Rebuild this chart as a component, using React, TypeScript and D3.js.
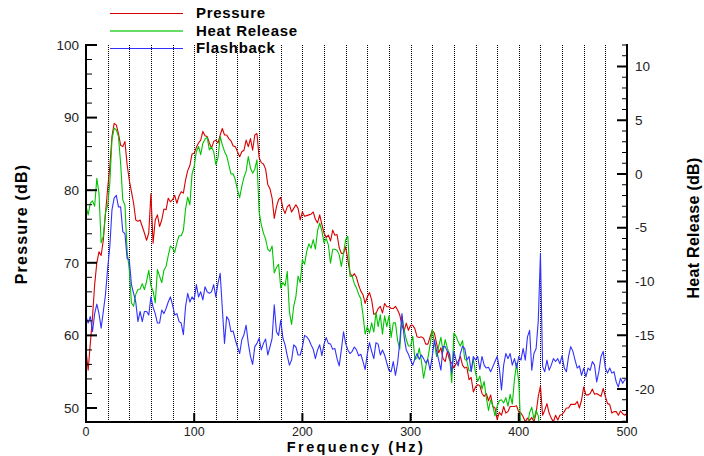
import React from "react";
import * as d3 from "d3";

// ---- data (frequency step 2 Hz, starting at 0 Hz) ----
const freqStep = 2;

const pressureDb = [
  58, 55.2, 58.9, 62.5, 67, 70, 71.5, 71, 73.1, 76.8,
  80.2, 83.2, 87.4, 89.2, 89, 87.8, 86.2, 86, 86.7, 83.5,
  81.4, 79.8, 78.2, 75.9, 75.7, 75.9, 75, 74.1, 73.1, 74.1,
  79.5, 72.7, 75.9, 76.6, 75, 75.9, 77.4, 77.3, 78.9, 78.4,
  78.7, 79.3, 78.2, 79.2, 79.8, 79.6, 81.4, 82.7, 83.4, 85,
  85.1, 85.9, 86.5, 86.9, 88.1, 87.5, 87.4, 86.5, 85.8, 86.7,
  86.9, 86.5, 87.6, 88.5, 87.6, 87.6, 87.1, 86.8, 86.1, 86,
  85.3, 84.6, 85.3, 85.5, 86.9, 86, 87.1, 85.5, 87.6, 87.8,
  84.5, 83.8, 83.6, 82.9, 80.8, 80.2, 78.9, 76.1, 77.7, 78.7,
  79, 77.5, 76.8, 77.7, 78, 77, 77.5, 78, 77.5, 75.9,
  77, 76.4, 76.5, 76.6, 76.7, 77, 76, 75.5, 76.6, 75.3,
  74.1, 73.5, 73.8, 73, 74.5, 73.8, 73.9, 72.1, 71.3, 71.3,
  72.2, 70.4, 68.6, 68.1, 68.5, 68, 66.9, 66.1, 65.6, 64.4,
  65.3, 65.9, 64.9, 62.9, 63, 63.7, 64, 63.1, 64.4, 63.95,
  63.95, 63.7, 63.7, 64, 63.5, 62.8, 61.4, 60.6, 61.7, 60.7,
  61.4, 61.4, 60.9, 59.8, 59.7, 59.8, 59.6, 58.8, 58.8, 59.8,
  60.7, 60.3, 58.9, 57.6, 58.3, 56.8, 56.4, 57.8, 56.6, 56.2,
  55.5, 56.1, 56.4, 57.1, 55.9, 55.5, 55.6, 53.9, 54.2, 52.2,
  52.9, 53.2, 53.1, 52, 51.6, 52, 51, 51.8, 50.2, 50,
  48.4, 49.4, 49, 50.2, 49.3, 49.5, 50.2, 50.2, 50.2, 50.3,
  49.4, 49.3, 48.8, 48.1, 48.6, 48.3, 48.7, 48.1, 49.3, 51.6,
  53, 49, 49.7, 50.6, 49.3, 48.6, 48.1, 49, 48.35, 49,
  49.1, 49.5, 50, 50, 50.5, 50.5, 50.5, 50.9, 50, 51.1,
  52.9, 51.8, 51.8, 52, 52.6, 51.9, 52, 51.8, 51.6, 52.7,
  51.6, 50.6, 50.5, 49.3, 49.5, 49.5, 49, 49.6, 49.2, 49,
  49.3,
];

const heatReleaseDb = [
  -3.0, -3.8, -2.7, -2.5, -3.0, -0.4, -1.8, -6.4, -5.8, -3.6,
  -2.95, -0.85, 3.2, 4.26, 4.1, 3.5, 1.0, -2.4, -2.9, -7.2,
  -8.9, -12, -12.3, -11.2, -10.75, -10.7, -10.2, -10.75, -9.98, -8.96,
  -10.4, -10.9, -12, -8.9, -9.5, -10.1, -8.96, -8.6, -7.6, -6.7,
  -6.9, -7.3, -6.4, -5.74, -5.74, -5.24, -3.26, -2.15, -2.86, 0,
  0.7, 2.1, 2.56, 1.8, 2.87, 3.24, 3.43, 2.25, 2.5, 2.1,
  0.86, 1.5, 3.49, 2.7, 2.1, 1.7, 0.86, 0, 0.02, -0.54,
  -1.47, -2.2, -1.16, -0.3, 0.24, 1.63, 0.55, 0.08, 0.45, 1.32,
  -3.5, -4.7, -5.5, -6.05, -7, -7.2, -6.7, -9.2, -8.7, -8.4,
  -10.6, -10.1, -10.4, -9.05, -12.8, -14, -12.3, -11.4, -9.5, -10.1,
  -7.97, -8.4, -7.2, -6.5, -6.9, -6.1, -7, -5.3, -4.56, -5.3,
  -6.4, -6, -6.6, -8.3, -7, -7, -7.1, -7.5, -8.6, -7.35,
  -6.1, -5.8, -9.5, -9.5, -10.2, -10.6, -11.2, -11.6, -13.1, -14.9,
  -14.2, -14.8, -13.85, -14.7, -12.9, -14.2, -13.1, -14.9, -13.2, -14.2,
  -13.2, -15.2, -13.85, -13.85, -15.5, -16.3, -13.2, -14.5, -15.4, -16,
  -16, -15.1, -17.25, -17.1, -16.2, -17.4, -19, -17.9, -17.1, -15.9,
  -14.5, -15.7, -17, -16, -15.2, -16.5, -15.4, -16.2, -16.8, -19.4,
  -14.8, -15.1, -15.6, -16, -15.5, -17.2, -17.4, -18.3, -18.3, -17.2,
  -18.5, -19.3, -18.8, -20, -19.3, -20.8, -22, -21, -21.6, -22.5,
  -21.6, -21.1, -21, -21.3, -20.8, -21.6, -20.5, -21.4, -19.1, -17.6,
  -19.4, -24, -23.6, -24, -23.4, -22.2, -21.7, -22.8, -22, -22.5,
  -24.5,
];

const flashbackDb = [
  62.6, 61.7, 62.6, 60.5, 63, 64.3, 63, 61, 63.3, 65.6,
  69.2, 72.2, 77.3, 78.9, 79.3, 77.7, 77.7, 74.3, 74, 70.6,
  70.4, 67, 65.8, 64.6, 61.9, 63.3, 61.9, 63.3, 63.3, 62.8,
  65.3, 63.9, 63, 61.7, 61.7, 63.5, 63, 63.7, 64.6, 65.3,
  64.2, 62.8, 63, 61.9, 61.7, 60.1, 63.96, 65.8, 64.6, 65.3,
  64.9, 67, 65.3, 66, 64.9, 66.7, 66, 65.8, 66, 67,
  65.3, 67.2, 68.55, 63.7, 58.9, 62.6, 62.1, 60.5, 60.6, 59.4,
  58.4, 57.5, 59.4, 60.1, 61.4, 58.9, 57.1, 56, 58.45, 58.9,
  59.6, 58, 58.9, 59.5, 57.3, 58.4, 59.6, 64.2, 60.5, 60,
  62.1, 59.6, 58.7, 57.2, 55.9, 56.6, 58.7, 58.4, 57.3, 57.3,
  58.4, 60, 59.8, 59.4, 58.7, 58.1, 56.8, 58, 58.7, 57.2,
  58.8, 59.7, 58.9, 58.8, 58.1, 58.2, 56.8, 55.8, 58, 60.5,
  58.9, 58, 57.5, 57.8, 58.4, 58, 57.2, 57.4, 56.4, 55.3,
  57.5, 59, 57.8, 56.8, 59, 58.8, 57.3, 58, 57.3, 56.2,
  55.2, 55, 56.4, 54.5, 56.2, 59.1, 63, 59.8, 58, 57.4,
  56.6, 55.9, 56.8, 57.5, 56.7, 57.3, 56.8, 56.2, 56.7, 55.2,
  57.1, 59.4, 57.9, 56.6, 55.2, 58.45, 58.45, 57.8, 57.5, 54.8,
  57.8, 56.6, 55.8, 57.5, 58.5, 58.2, 56.6, 57.1, 55, 57.1,
  56.6, 57.1, 55.3, 57.1, 55.9, 55.5, 55.6, 55, 55.7, 56.4,
  57.1, 55.5, 52.5, 55.9, 57.5, 56.8, 57.5, 55.9, 56.8, 55.5,
  57.1, 56.6, 58.2, 56.6, 59.8, 60.7, 55.2, 57.5, 58.2, 62,
  71.3, 55.7, 55, 56.6, 55.2, 55.9, 56.8, 56.4, 56.8, 56.1,
  57.2, 55.5, 55, 57.1, 58.45, 57.8, 56.6, 55.5, 55.8, 54.5,
  55.5, 54.3, 55.5, 55.2, 56.4, 55.9, 53.6, 55, 57.1, 57.8,
  55.5, 54.8, 55.5, 54.8, 55, 53.6, 52.9, 54.1, 53.4, 53.9,
  53.9,
];

const freqTicks = [0, 100, 200, 300, 400, 500];
const pressureTicks = [50, 60, 70, 80, 90, 100];
const heatTicks = [-20, -15, -10, -5, 0, 5, 10];
const legendLabels = ["Pressure", "Heat Release", "Flashback"];

const pressureDomain = [48.07, 100];
const heatDomain = [-23.07, 12];
const freqDomain = [0, 500];

const RED = "#d80000";
const GREEN = "#00c400";
const BLUE = "#3232ff";
const FONT = "'Liberation Sans', Arial, Helvetica, sans-serif";

const W = 704;
const H = 456;
const L = 86, R = 627, T = 45, B = 422;

export default function App() {
  const x = d3.scaleLinear().domain(freqDomain).range([L, R]);
  const yP = d3.scaleLinear().domain(pressureDomain).range([B, T]);
  const yH = d3.scaleLinear().domain(heatDomain).range([B, T]);

  const lineP = d3.line<number>().x((_, i) => x(i * freqStep)).y((d) => yP(d));
  const lineH = d3.line<number>().x((_, i) => x(i * freqStep)).y((d) => yH(d));

  const grid = d3.range(20, 500, 20);
  const leftMinor = d3.range(50, 100, 2).filter((v) => v % 10 !== 0);
  const rightMinor = d3.range(-23, 13, 1).filter((v) => v % 5 !== 0);
  const legendColors = [RED, GREEN, BLUE];

  return (
    <svg
      width={W}
      height={H}
      viewBox={`0 0 ${W} ${H}`}
      style={{ position: "absolute", left: 0, top: 0, background: "#fff" }}
      fontFamily={FONT}
    >
      <rect x={0} y={0} width={W} height={H} fill="#fff" />
      <defs>
        <clipPath id="plotClip">
          <rect x={L} y={T} width={R - L} height={B - T} />
        </clipPath>
      </defs>

      {/* dotted vertical grid */}
      {grid.map((f) => (
        <line
          key={f}
          x1={Math.round(x(f)) + 0.5}
          x2={Math.round(x(f)) + 0.5}
          y1={T}
          y2={B}
          stroke="#000"
          strokeWidth={1}
          strokeDasharray="1,1"
        />
      ))}

      {/* series */}
      <g clipPath="url(#plotClip)" fill="none" strokeWidth={1.1} strokeLinejoin="round">
        <path d={lineP(pressureDb) || ""} stroke={RED} />
        <path d={lineH(heatReleaseDb) || ""} stroke={GREEN} />
        <path d={lineP(flashbackDb) || ""} stroke={BLUE} />
      </g>

      {/* axes lines */}
      <line x1={L} x2={L} y1={T - 1} y2={B + 1} stroke="#000" strokeWidth={2} />
      <line x1={R} x2={R} y1={T - 1} y2={B + 1} stroke="#000" strokeWidth={2} />
      <line x1={L - 1} x2={R + 1} y1={B} y2={B} stroke="#000" strokeWidth={2} />

      {/* left ticks */}
      {pressureTicks.map((v) => (
        <g key={"lp" + v}>
          <line x1={L} x2={L + 11} y1={yP(v)} y2={yP(v)} stroke="#000" strokeWidth={2} />
          <text x={79} y={yP(v)} dy="0.35em" textAnchor="end" fontSize={13.5} fill="#222">
            {v}
          </text>
        </g>
      ))}
      {leftMinor.map((v) => (
        <line key={"lm" + v} x1={L} x2={L + 6} y1={yP(v)} y2={yP(v)} stroke="#000" strokeWidth={1} />
      ))}

      {/* right ticks */}
      {heatTicks.map((v) => (
        <g key={"rh" + v}>
          <line x1={R} x2={R - 10} y1={yH(v)} y2={yH(v)} stroke="#000" strokeWidth={2} />
          <text x={635} y={yH(v)} dy="0.35em" textAnchor="start" fontSize={13.5} fill="#222">
            {v}
          </text>
        </g>
      ))}
      {rightMinor.map((v) => (
        <line key={"rm" + v} x1={R} x2={R - 5} y1={yH(v)} y2={yH(v)} stroke="#000" strokeWidth={1} />
      ))}

      {/* bottom ticks */}
      {freqTicks.map((f) => (
        <g key={"bt" + f}>
          <line x1={x(f)} x2={x(f)} y1={B} y2={B - 9} stroke="#000" strokeWidth={2} />
          <text x={x(f)} y={436} textAnchor="middle" fontSize={12.5} fill="#222">
            {f}
          </text>
        </g>
      ))}

      {/* axis titles */}
      <text
        x={356}
        y={452}
        textAnchor="middle"
        fontSize={14.5}
        fontWeight="bold"
        letterSpacing={2.4}
        fill="#000"
      >
        Frequency (Hz)
      </text>
      <text
        transform={`translate(27,${224}) rotate(-90)`}
        textAnchor="middle"
        fontSize={16}
        fontWeight="bold"
        letterSpacing={1.2}
        fill="#000"
      >
        Pressure (dB)
      </text>
      <text
        transform={`translate(699,${228}) rotate(-90)`}
        textAnchor="middle"
        fontSize={16}
        fontWeight="bold"
        letterSpacing={0.3}
        fill="#000"
      >
        Heat Release (dB)
      </text>

      {/* legend */}
      {legendLabels.map((lab, i) => (
        <g key={lab}>
          <line
            x1={110}
            x2={183}
            y1={13.5 + i * 17.5}
            y2={13.5 + i * 17.5}
            stroke={i === 1 ? "#66dd66" : legendColors[i]}
            strokeWidth={i === 1 ? 2 : 1}
          />
          <text
            x={196}
            y={18 + i * 17.5}
            fontSize={15}
            fontWeight="bold"
            letterSpacing={0.7}
            fill="#000"
          >
            {lab}
          </text>
        </g>
      ))}
    </svg>
  );
}
